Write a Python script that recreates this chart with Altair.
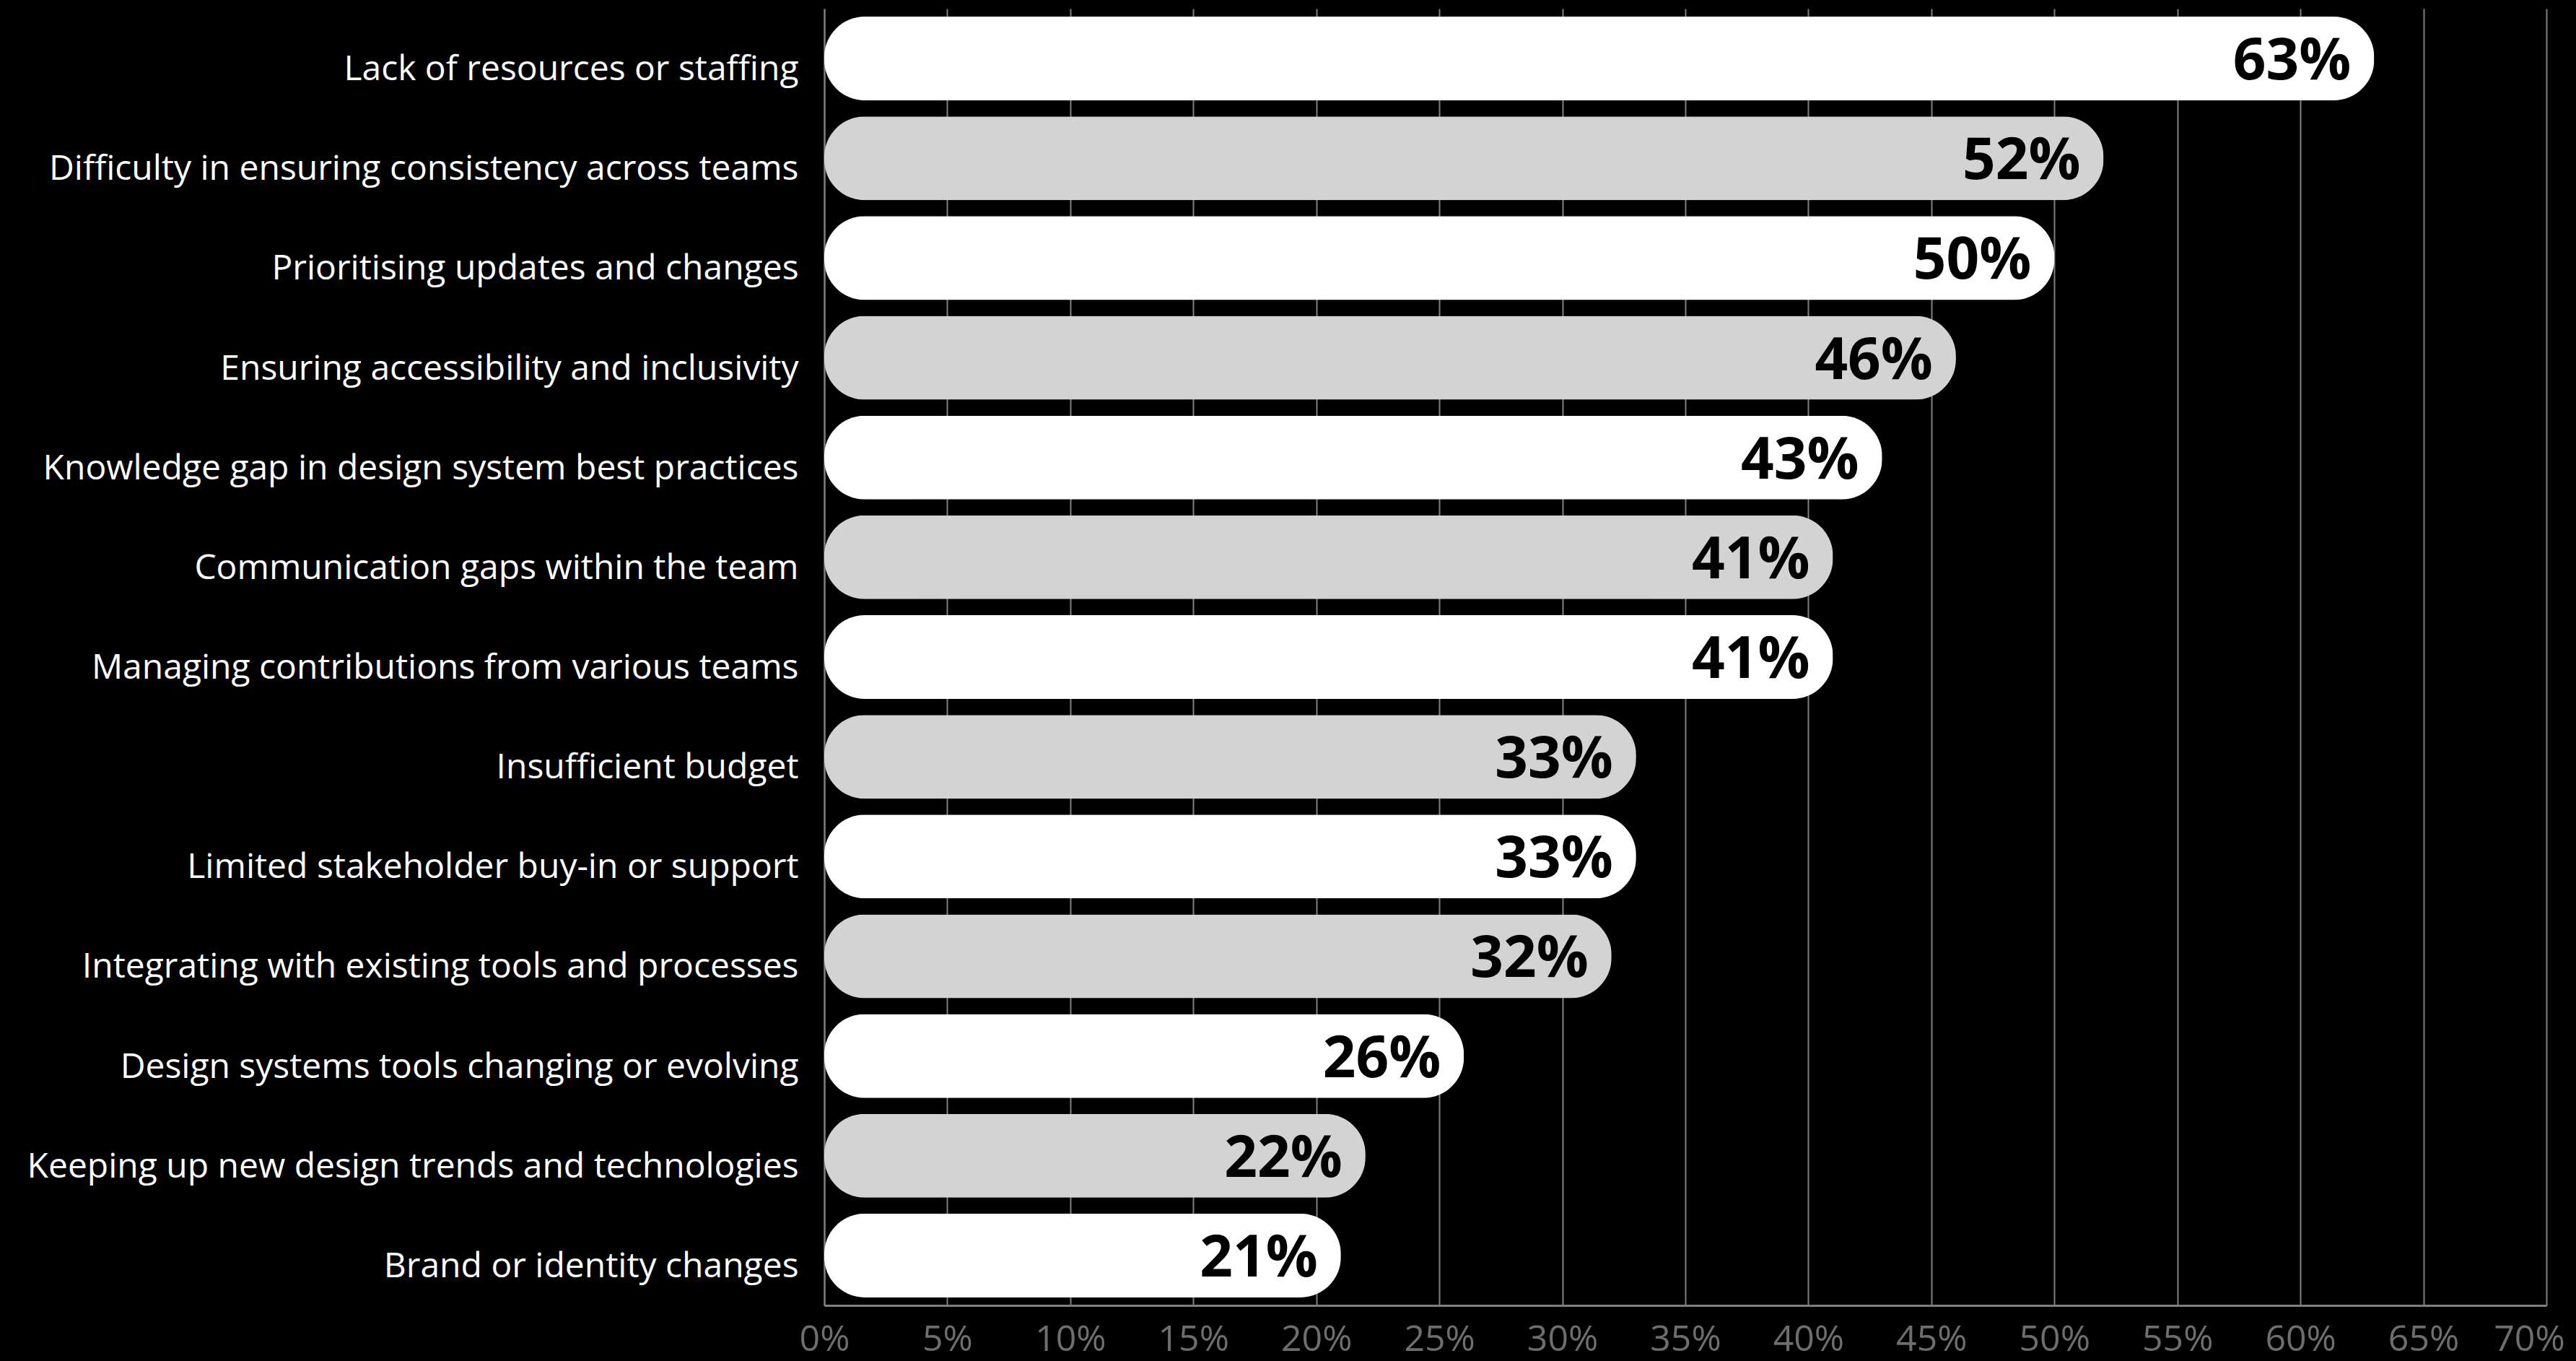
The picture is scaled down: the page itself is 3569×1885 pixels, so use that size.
import altair as alt
import pandas as pd

categories = [
    "Lack of resources or staffing",
    "Difficulty in ensuring consistency across teams",
    "Prioritising updates and changes",
    "Ensuring accessibility and inclusivity",
    "Knowledge gap in design system best practices",
    "Communication gaps within the team",
    "Managing contributions from various teams",
    "Insufficient budget",
    "Limited stakeholder buy-in or support",
    "Integrating with existing tools and processes",
    "Design systems tools changing or evolving",
    "Keeping up new design trends and technologies",
    "Brand or identity changes",
]
values = [0.63, 0.52, 0.50, 0.46, 0.43, 0.41, 0.41, 0.33, 0.33, 0.32, 0.26, 0.22, 0.21]
shades = ["a", "b", "a", "b", "a", "b", "a", "b", "a", "b", "a", "b", "a"]
x_ticks = [0, 0.05, 0.10, 0.15, 0.20, 0.25, 0.30, 0.35, 0.40, 0.45, 0.50, 0.55, 0.60, 0.65, 0.70]

df = pd.DataFrame({"category": categories, "value": values, "shade": shades})
df["label"] = [f"{round(v * 100)}%" for v in values]

FONT = "Open Sans"

y_enc = alt.Y(
    "category:N",
    sort=categories,
    scale=alt.Scale(paddingInner=0.16, paddingOuter=0.08),
    axis=alt.Axis(
        title=None,
        ticks=False,
        tickSize=0,
        labelColor="#ffffff",
        labelFont=FONT,
        labelFontSize=48,
        labelPadding=36,
        labelOffset=16,
        labelLimit=2000,
        domain=True,
        domainColor="#808080",
        domainWidth=2,
        grid=False,
    ),
)

x_enc = alt.X(
    "value:Q",
    scale=alt.Scale(domain=[0, 0.70], nice=False),
    axis=alt.Axis(
        title=None,
        values=x_ticks,
        format=".0%",
        labelColor="#6e6e6e",
        labelFont=FONT,
        labelFontSize=50,
        labelPadding=22,
        labelFlush=False,
        labelOffset=alt.expr("datum.value >= 0.7 ? -24 : 0"),
        ticks=False,
        tickSize=0,
        domain=True,
        domainColor="#808080",
        domainWidth=3,
        grid=True,
        gridColor="#808080",
        gridWidth=2,
    ),
)

bars = alt.Chart(df).mark_bar(cornerRadius=56).encode(
    y=y_enc,
    x=x_enc,
    color=alt.Color(
        "shade:N",
        scale=alt.Scale(domain=["a", "b"], range=["#ffffff", "#d3d3d3"]),
        legend=None,
    ),
)

labels = alt.Chart(df).mark_text(
    align="right",
    baseline="middle",
    dx=-32,
    dy=5,
    font=FONT,
    fontSize=80,
    fontWeight="bold",
    color="#000000",
).encode(
    y=alt.Y("category:N", sort=categories),
    x=alt.X("value:Q"),
    text="label:N",
)

chart = (
    alt.layer(bars, labels)
    .properties(
        width=2386,
        height=1796,
        background="#000000",
        padding={"left": 1142, "top": 12, "right": 41, "bottom": 77},
        autosize=alt.AutoSizeParams(type="none"),
    )
    .configure_view(stroke=None)
)

chart.save("out.html", embed_options={"renderer": "svg", "actions": False})
